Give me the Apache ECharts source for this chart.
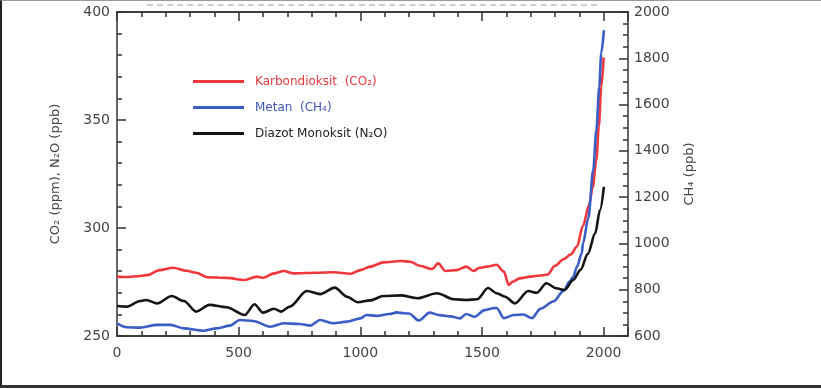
<!DOCTYPE html>
<html>
<head>
<meta charset="utf-8">
<title>CO2 - CH4 - N2O</title>
<script src="https://cdn.jsdelivr.net/npm/echarts@6/dist/echarts.min.js"></script>
<style>
  html, body { margin: 0; padding: 0; background: #fff; }
  .frame {
    position: relative;
    width: 819px;
    height: 384px;
    border-left: 2px solid #222;
    border-top: 1px solid #999;
    border-bottom: 3px solid #333;
    background: #fff;
  }
  .frame .cut {
    position: absolute;
    left: 145px;
    top: 3px;
    width: 450px;
    border-top: 2px dashed #ccc;
  }
  #chart { position: absolute; left: -2px; top: -1px; width: 821px; height: 389px; }
</style>
</head>
<body>
<div class="frame">
  <div class="cut"></div>
  <div id="chart"></div>
</div>
<script>
// eksen değerleri
const yearTicks = [0, 500, 1000, 1500, 2000]
const leftTicks = [250, 300, 350, 400]
const rightTicks = [600, 800, 1000, 1200, 1400, 1600, 1800, 2000]

// seri isimleri
const co2Name = 'Karbondioksit  (CO₂)'
const ch4Name = 'Metan  (CH₄)'
const n2oName = 'Diazot Monoksit (N₂O)'

// CO2 (ppm) - sol eksen
const co2Years = [0, 40, 95, 125, 175, 230, 285, 325, 370, 450, 525, 575, 600, 645, 685, 725, 820, 890, 960, 1000,
  1040, 1095, 1165, 1205, 1245, 1295, 1320, 1350, 1395, 1435, 1465, 1490, 1520, 1560, 1590, 1610, 1625, 1655, 1700, 1740,
  1770, 1800, 1835, 1865, 1890, 1915, 1940, 1955, 1970, 1980, 1990, 2000]
const co2Values = [277.5, 277.3, 277.8, 278.2, 280.5, 281.6, 280.2, 279.3, 277.2, 276.9, 275.9, 277.5, 277, 279, 280.1, 279, 279.3, 279.5, 278.8, 280.5,
  282.1, 284.1, 284.7, 284.4, 282.5, 281, 283.6, 280.1, 280.5, 282.1, 280.1, 281.6, 282.1, 283, 279.8, 273.6, 275.1, 276.7, 277.5, 278,
  278.5, 282.5, 285.5, 287.8, 291.3, 301, 310.6, 319, 331.5, 347, 365, 379]

// CH4 (ppb) - sağ eksen
const ch4Years = [0, 40, 95, 165, 220, 275, 355, 410, 465, 505, 560, 630, 685, 750, 795, 835, 890, 945, 1000, 1025,
  1065, 1120, 1150, 1165, 1200, 1240, 1285, 1325, 1370, 1410, 1435, 1470, 1510, 1545, 1560, 1590, 1630, 1670, 1705, 1740,
  1795, 1835, 1860, 1875, 1890, 1910, 1915, 1937, 1957, 1970, 1982, 1990, 2001]
const ch4Values = [655, 638, 636, 648, 648, 633, 623, 633, 645, 669, 665, 640, 655, 652, 645, 669, 655, 662, 676, 691,
  687, 695, 702, 700, 697, 667, 701, 690, 685, 676, 695, 683, 712, 720, 721, 677, 691, 693, 677, 717,
  750, 795, 835, 856, 899, 957, 1000, 1110, 1317, 1490, 1677, 1822, 1922]

// N2O (ppb) - sol eksen
const n2oYears = [0, 40, 95, 120, 165, 225, 275, 325, 380, 450, 525, 565, 600, 645, 675, 710, 780, 835, 895, 945,
  990, 1040, 1095, 1165, 1235, 1315, 1385, 1435, 1480, 1525, 1560, 1595, 1635, 1690, 1725, 1765, 1805, 1840, 1875, 1905,
  1935, 1965, 1985, 2001]
const n2oValues = [263.9, 263.6, 266.2, 266.7, 265.1, 268.5, 266.2, 261.3, 264.4, 263.3, 259.7, 264.7, 260.8, 262.6, 261.3, 263.6, 270.8, 269.4, 272.4, 268.2,
  265.6, 266.5, 268.5, 268.8, 267.5, 269.8, 267, 266.7, 267, 272.2, 269.8, 268.2, 265.1, 270.8, 270, 274.4, 272.1, 271.3, 276, 280.6,
  288, 297.5, 308.3, 319.1]

const font = 'DejaVu Sans'
const axisColor = '#333'
const textColor = '#444'

function pairs (xs, ys) {
  return xs.map((x, i) => [x, ys[i]])
}

// yıl ekseni: kısa tikler 100'de bir, uzun tikler 500'de bir (alt ve üst)
function yearAxis (position, step, len, showLabel) {
  return {
    type: 'value',
    position: position,
    min: yearTicks[0],
    max: 2100,
    interval: step,
    axisLine: { show: true, onZero: false, lineStyle: { color: axisColor, width: 1.5 } },
    axisTick: { show: true, inside: true, length: len, lineStyle: { color: axisColor, width: 1.5 } },
    axisLabel: {
      show: showLabel,
      margin: 10,
      color: textColor,
      fontFamily: font,
      fontSize: 14,
      formatter: function (v) { return yearTicks.indexOf(v) >= 0 ? String(v) : '' }
    },
    splitLine: { show: false }
  }
}

// değer ekseni: uzun tikli ana eksen ya da sadece kısa tikli yardımcı eksen
function valueAxis (position, ticks, step, len, main) {
  return {
    type: 'value',
    position: position,
    min: ticks[0],
    max: ticks[ticks.length - 1],
    interval: step,
    axisLine: { show: main, onZero: false, lineStyle: { color: axisColor, width: 1.5 } },
    axisTick: { show: true, inside: true, length: len, lineStyle: { color: axisColor, width: 1.5 } },
    axisLabel: {
      show: main,
      margin: position === 'left' ? 7 : 6,
      color: textColor,
      fontFamily: font,
      fontSize: 14,
      formatter: function (v) { return String(v) }
    },
    splitLine: { show: false }
  }
}

let leftAxis = valueAxis('left', leftTicks, 50, 9, true)
leftAxis.name = 'CO₂ (ppm), N₂O (ppb)'
leftAxis.nameLocation = 'middle'
leftAxis.nameGap = 55
leftAxis.nameTextStyle = { color: textColor, fontFamily: font, fontSize: 13 }

let rightAxis = valueAxis('right', rightTicks, 200, 9, true)
rightAxis.name = 'CH₄ (ppb)'
rightAxis.nameLocation = 'middle'
rightAxis.nameRotate = 90
rightAxis.nameGap = 55
rightAxis.nameTextStyle = { color: textColor, fontFamily: font, fontSize: 13 }

let myChart = echarts.init(document.getElementById('chart'))
myChart.setOption({
  animation: false,
  grid: {
    left: 117,
    right: 193,
    top: 12,
    bottom: 53
  },
  legend: {
    orient: 'vertical',
    left: 188,
    top: 69,
    icon: 'rect',
    itemWidth: 51,
    itemHeight: 3,
    itemGap: 11,
    textStyle: { fontFamily: font, fontSize: 12, lineHeight: 15, padding: [0, 0, 0, 6] },
    data: [
      { name: co2Name, textStyle: { color: '#e8383d' } },
      { name: ch4Name, textStyle: { color: '#3f57b5' } },
      { name: n2oName, textStyle: { color: '#222' } }
    ]
  },
  xAxis: [
    yearAxis('bottom', 100, 5, true),
    yearAxis('bottom', 500, 9, false),
    yearAxis('top', 100, 5, false),
    yearAxis('top', 500, 9, false)
  ],
  yAxis: [
    leftAxis,
    rightAxis,
    valueAxis('left', leftTicks, 10, 5, false),
    valueAxis('right', rightTicks, 50, 5, false)
  ],
  series: [
    {
      name: co2Name,
      type: 'line',
      xAxisIndex: 0,
      yAxisIndex: 0,
      data: pairs(co2Years, co2Values),
      showSymbol: false,
      symbol: 'none',
      smooth: 0.3,
      smoothMonotone: 'x',
      itemStyle: { color: '#f0383c' },
      lineStyle: { color: '#f0383c', width: 2.6 }
    },
    {
      name: ch4Name,
      type: 'line',
      xAxisIndex: 0,
      yAxisIndex: 1,
      data: pairs(ch4Years, ch4Values),
      showSymbol: false,
      symbol: 'none',
      smooth: 0.3,
      smoothMonotone: 'x',
      itemStyle: { color: '#3a5ec6' },
      lineStyle: { color: '#3a5ec6', width: 2.6 }
    },
    {
      name: n2oName,
      type: 'line',
      xAxisIndex: 0,
      yAxisIndex: 0,
      data: pairs(n2oYears, n2oValues),
      showSymbol: false,
      symbol: 'none',
      smooth: 0.3,
      smoothMonotone: 'x',
      itemStyle: { color: '#151515' },
      lineStyle: { color: '#151515', width: 2.6 }
    }
  ]
})
</script>
</body>
</html>
